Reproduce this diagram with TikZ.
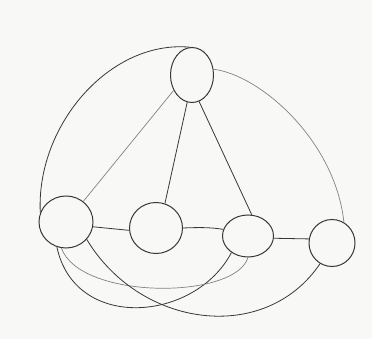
\documentclass[tikz,border=0pt]{standalone}
\usetikzlibrary{shapes.geometric}
\definecolor{paper}{RGB}{248,248,246}
\definecolor{pencil}{RGB}{55,55,55}
\definecolor{lightpencil}{RGB}{130,130,130}
\begin{document}
\begin{tikzpicture}[x=1pt,y=-1pt,
  vtx/.style={ellipse,draw=pencil,line width=1pt,inner sep=0pt},
  edge/.style={draw=pencil,line width=0.8pt},
  faint/.style={draw=lightpencil,line width=0.7pt}]
\fill[paper] (0,0) rectangle (372,339);
\useasboundingbox (0,0) rectangle (372,339);
\node[vtx,minimum width=43pt,minimum height=55pt] (t) at (192,75) {};
\node[vtx,minimum width=54pt,minimum height=52pt] (l) at (66,222) {};
\node[vtx,minimum width=53pt,minimum height=51pt] (m1) at (156,228) {};
\node[vtx,minimum width=51pt,minimum height=42pt] (m2) at (248,236) {};
\node[vtx,minimum width=46pt,minimum height=47pt] (r) at (332,243) {};
% outer arcs
\draw[edge] (t.95) .. controls (110,40) and (36,125) .. (l.160);
\draw[faint] (t.15) .. controls (260,75) and (335,140) .. (r.60);
% spokes from top
\draw[faint] (t.220) -- (l.50);
\draw[edge] (t.260) -- (m1.70);
\draw[edge] (t.285) -- (m2.80);
% bottom row
\draw[edge] (l.-10) -- (m1.185);
\draw[edge] (m1.east) .. controls (205,227) and (215,228) .. (m2.165);
\draw[edge] (m2.-5) -- (r.170);
% lower curves
\draw[edge] (l.250) .. controls (75,332) and (195,322) .. (m2.225);
\draw[faint] (l.260) .. controls (80,300) and (235,300) .. (m2.270);
\draw[edge] (l.-40) .. controls (140,328) and (265,345) .. (r.240);
\end{tikzpicture}
\end{document}
